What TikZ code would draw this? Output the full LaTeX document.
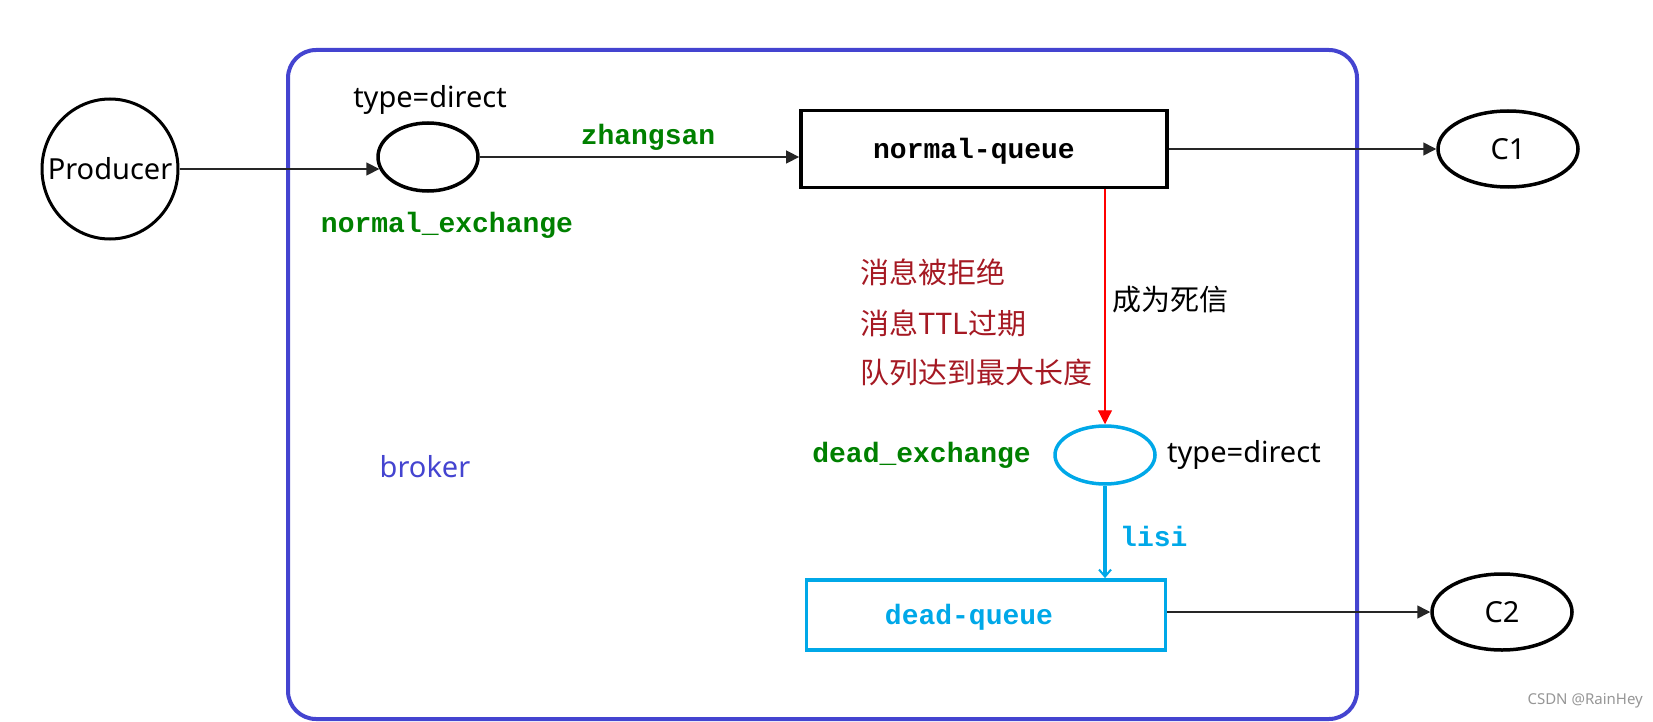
\documentclass[tikz,border=0pt]{standalone}
\usepackage{fontspec}
\setmainfont{Noto Sans}
\setmonofont{Liberation Mono}
\newfontfamily\cjk{Noto Sans CJK SC}
\usetikzlibrary{shapes.geometric,arrows.meta}
\definecolor{brokerblue}{RGB}{68,68,208}
\definecolor{qgreen}{RGB}{0,128,0}
\definecolor{deadcyan}{RGB}{0,168,232}
\definecolor{maroon}{RGB}{165,25,35}
\definecolor{wmgray}{RGB}{150,150,150}
\tikzset{
  sanstxt/.style={font=\fontsize{29}{34}\selectfont, inner sep=0},
  cjktxt/.style={font=\fontsize{29}{34}\selectfont\cjk, inner sep=0},
  monotxt/.style={font=\fontsize{28}{32}\selectfont\ttfamily\bfseries, inner sep=0},
  oval/.style={ellipse, draw=black, line width=3.5pt, inner sep=0},
  queuebox/.style={rectangle, draw, line width=3.8pt, inner sep=0},
  arr/.style={draw=black!85, line width=1.5pt, -{Triangle[length=13pt,width=13pt]}},
}
\begin{document}
\begin{tikzpicture}[x=1pt,y=-1pt]
\useasboundingbox (0,0) rectangle (1653,722);
% broker frame
\node[draw=brokerblue, line width=4pt, rounded corners=28pt, minimum width=1069pt, minimum height=669pt, inner sep=0] (frame) at (822.5,384.5) {};
\node[sanstxt, text=brokerblue] (brk) at (425,467) {broker};
% nodes
\node[oval, minimum width=136pt, minimum height=140pt, line width=3pt] (P) at (110,169) {};
\node[sanstxt] (Ptxt) at (P.center) {Producer};
\node[oval, minimum width=100pt, minimum height=68pt] (nx) at (428,157) {};
\node[sanstxt] (nxtype) at (430,100) {type=direct};
\node[monotxt, text=qgreen] (nxname) at (447,225) {normal\_exchange};
\node[queuebox, minimum width=366pt, minimum height=77pt] (nq) at (984,149) {};
\node[monotxt] (nqtxt) at (974,151) {normal-queue};
\node[oval, minimum width=140pt, minimum height=76pt] (C1) at (1508,149) {};
\node[sanstxt] (C1txt) at (C1.center) {C1};
\node[oval, draw=deadcyan, minimum width=100pt, minimum height=58pt] (dx) at (1105,455) {};
\node[monotxt, text=qgreen, anchor=east] (dxname) at (1031,455) {dead\_exchange};
\node[sanstxt, anchor=west] (dxtype) at (1167,455) {type=direct};
\node[queuebox, draw=deadcyan, minimum width=359pt, minimum height=70pt] (dq) at (986,615) {};
\node[monotxt, text=deadcyan] (dqtxt) at (969,617) {dead-queue};
\node[oval, minimum width=140pt, minimum height=76pt] (C2) at (1502,612) {};
\node[sanstxt] (C2txt) at (C2.center) {C2};
% labels
\node[monotxt, text=qgreen] (zs) at (648,137) {zhangsan};
\node[cjktxt, text=maroon, anchor=west] (r1) at (860,272) {消息被拒绝};
\node[cjktxt, text=maroon, anchor=west] (r2) at (860,323) {消息TTL过期};
\node[cjktxt, text=maroon, anchor=west] (r3) at (860,372) {队列达到最大长度};
\node[cjktxt, anchor=west] (dead) at (1112,300) {成为死信};
\node[monotxt, text=deadcyan, anchor=west] (lisi) at (1120,536) {lisi};
\node[font=\fontsize{15}{17}\selectfont, text=wmgray, inner sep=0, anchor=east] (wm) at (1643,701) {CSDN @RainHey};
% connectors
\draw[arr] (P.east) -- (P.east -| nx.194);
\draw[arr] (nx.east) -- (nx.east -| nq.west);
\draw[arr] (nq.east) -- (nq.east -| C1.west);
\draw[red, line width=1.2pt, -{Triangle[length=14pt,width=14pt]}] (dx.north |- nq.south) -- (dx.north);
\draw[deadcyan, line width=4pt, -{Straight Barb[length=7pt,width=12pt,line width=2pt]}] (dx.south) -- (dx.south |- dq.north);
\draw[arr] (dq.east |- C2.west) -- (C2.west);
\end{tikzpicture}
\end{document}
